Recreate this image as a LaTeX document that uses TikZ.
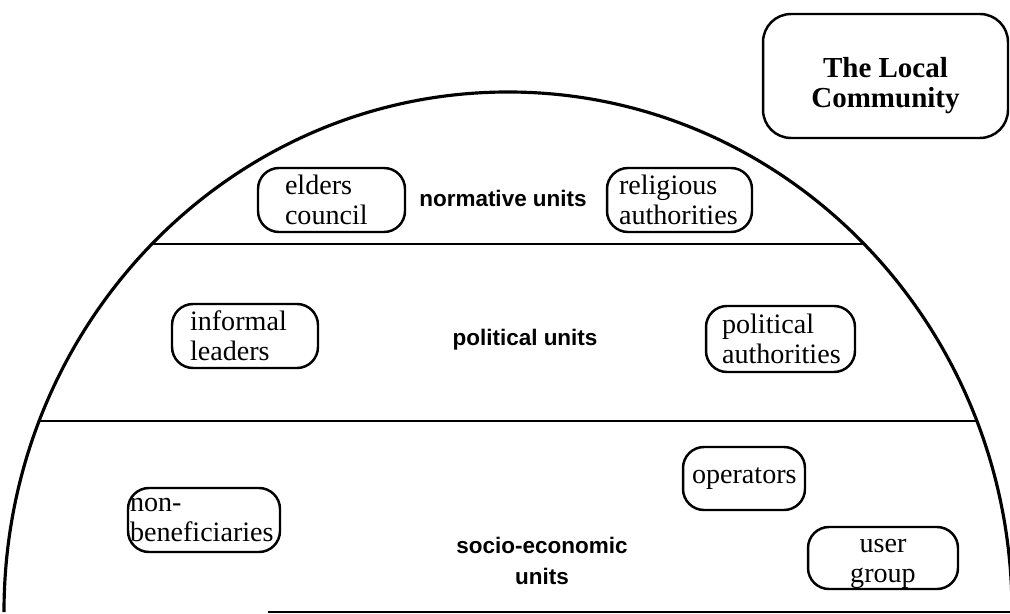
\documentclass[tikz,border=0pt]{standalone}
\usepackage{fontspec}
\setmainfont{Liberation Serif}
\newfontfamily\layersans{Liberation Sans}
\usepackage{tikz}
\usetikzlibrary{positioning}

\begin{document}
\begin{tikzpicture}[x=0.02cm, y=-0.02cm,
    unitbox/.style={draw, line width=1.4pt, rounded corners=0.42cm, align=left,
      minimum height=1.28cm, inner ysep=2pt, font=\fontsize{16}{17}\selectfont},
    layerlabel/.style={font=\layersans\bfseries\fontsize{12.8}{18}\selectfont, align=center},
    rim/.style={line width=1.8pt},
    divider/.style={line width=1.4pt}]
  \useasboundingbox (0,0) rectangle (1010,614);
  \clip (0,0) rectangle (1010,614);
  % the community dome and its layers
  \draw[rim] (4,612) arc[start angle=180, end angle=360, x radius=504, y radius=520];
  \draw[divider] (152,244) -- (866,244);
  \draw[divider] (40,421) -- (977,421);
  \draw[divider] (268,612) -- (1010,612);
  % title
  \node[draw, line width=1.4pt, rounded corners=0.56cm, minimum width=4.9cm, minimum height=2.48cm,
    align=center, font=\bfseries\fontsize{16.5}{17}\selectfont] (community) at (885.5,76)
    {\rule{0pt}{22pt}The Local\\Community};
  % normative units
  \node[layerlabel] (normative) at (503,198) {normative units};
  \node[unitbox, text width=1.86cm, inner xsep=0.54cm] (elders) at (331.5,200) {elders\\council};
  \node[unitbox, text width=2.42cm, inner xsep=0.24cm] (religious) at (679.5,200) {religious\\authorities};
  % political units
  \node[layerlabel] (political) at (525,340) {political units};
  \node[unitbox, text width=2.20cm, inner xsep=0.36cm] (informal) at (245,336) {informal\\leaders};
  \node[unitbox, text width=2.34cm, inner xsep=0.32cm, minimum height=1.32cm] (polauth) at (780.5,339) {political\\authorities};
  % socio-economic units
  \node[layerlabel] (socio) at (542,561) {socio-economic\\units};
  \node[unitbox, text width=2.96cm, inner xsep=0.04cm] (nonbenef) at (204,520) {non-\\beneficiaries};
  \node[unitbox, align=center, text width=2.08cm, inner xsep=0.18cm, minimum height=1.26cm] (operators) at (744,478.5) {operators};
  \node[unitbox, align=center, text width=2.60cm, inner xsep=0.2cm, inner ysep=0pt, minimum height=1.24cm] (usergroup) at (883,558)
    {\rule{0pt}{14pt}user\\group};
\end{tikzpicture}
\end{document}
